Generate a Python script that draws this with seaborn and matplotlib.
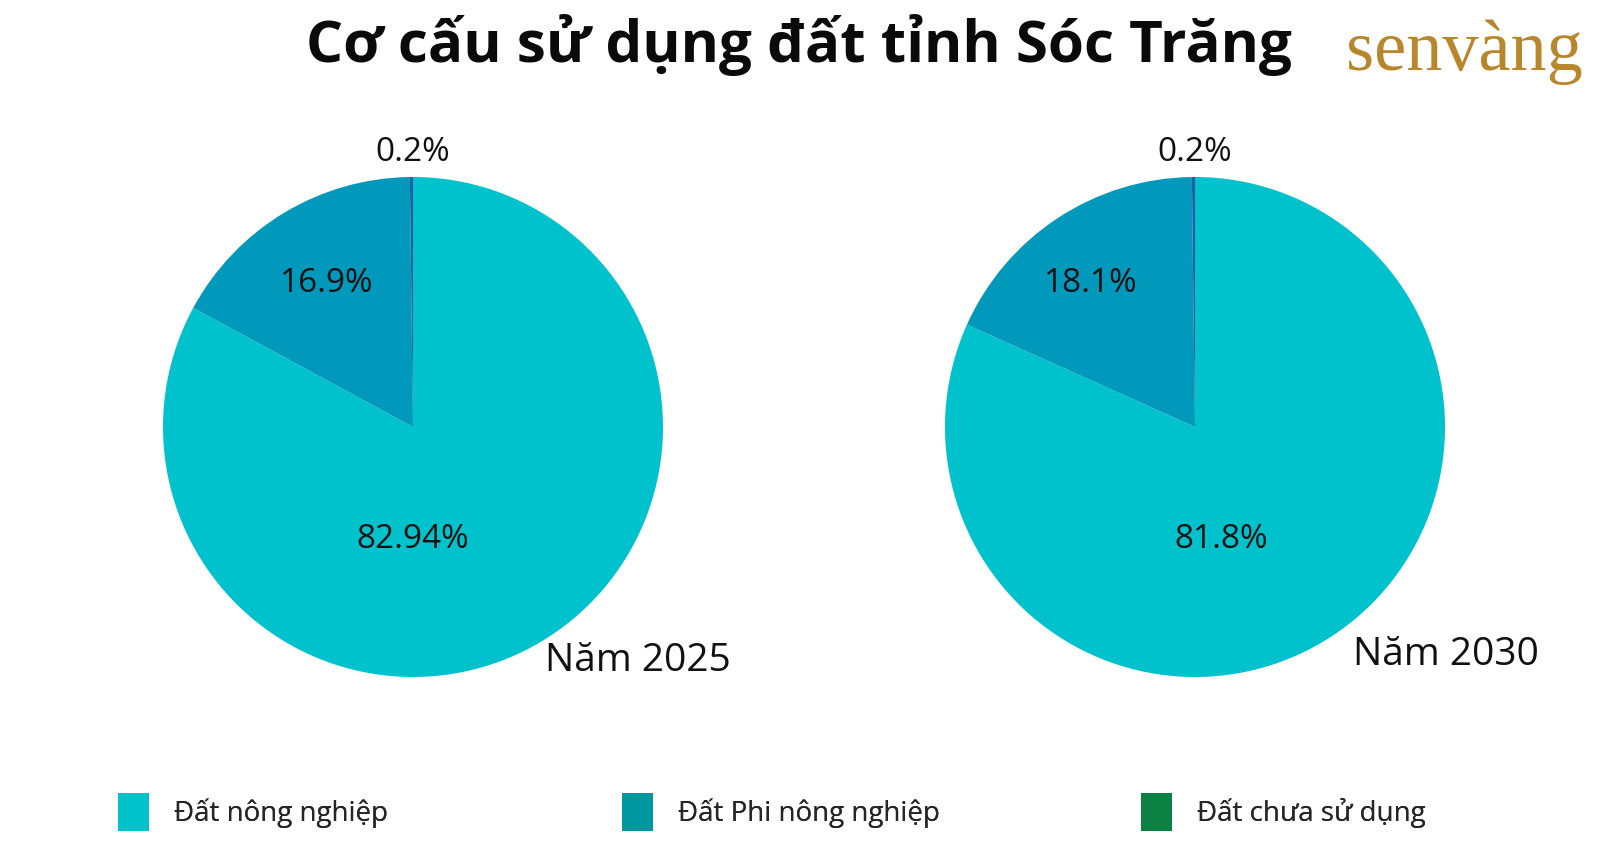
# =====================================================
# CO CAU SU DUNG DAT TINH SOC TRANG - PIE CHARTS
# =====================================================

import numpy as np
import matplotlib
matplotlib.use("Agg")
import matplotlib.pyplot as plt
from matplotlib.patches import Patch
import seaborn as sns

# =====================================================
# DATA
# =====================================================

categories = ["Đất nông nghiệp", "Đất Phi nông nghiệp", "Đất chưa sử dụng"]
years = ["Năm 2025", "Năm 2030"]
values_2025 = [82.94, 16.9, 0.2]
values_2030 = [81.8, 18.1, 0.2]
labels_2025 = ["82.94%", "16.9%", "0.2%"]
labels_2030 = ["81.8%", "18.1%", "0.2%"]

# =====================================================
# STYLE SETTINGS
# =====================================================

sns.set_style("white")
plt.rcParams["font.family"] = ["Open Sans", "DejaVu Sans"]

pie_colors = ["#00C2CC", "#0098BB", "#1F5FA8"]
legend_colors = ["#00C2CC", "#00979F", "#0B8043"]

W, H = 1600, 847
fig = plt.figure(figsize=(16, 8.47), dpi=100)

# =====================================================
# PIES
# =====================================================

radius_px = 250
centers = [(413, 427), (1195, 427)]

# label placement (angle in degrees, distance as fraction of radius)
label_spots = [
    [(-90, 0.45), (121, 0.67), (90, 1.10)],
    [(-77, 0.46), (126, 0.71), (90, 1.10)],
]
year_spots = [(638, 661), (1446, 655)]

for i, vals in enumerate([values_2025, values_2030]):
    cx, cy = centers[i]
    ax = fig.add_axes([
        (cx - radius_px) / W,
        (H - cy - radius_px) / H,
        2 * radius_px / W,
        2 * radius_px / H,
    ])
    ax.pie(
        vals,
        colors=pie_colors,
        startangle=90,
        counterclock=False,
        radius=1,
        wedgeprops={"linewidth": 0},
    )
    ax.set_xlim(-1, 1)
    ax.set_ylim(-1, 1)
    ax.axis("off")

    labels = labels_2025 if i == 0 else labels_2030
    for lab, (ang, dist) in zip(labels, label_spots[i]):
        a = np.deg2rad(ang)
        ax.text(
            dist * np.cos(a), dist * np.sin(a), lab,
            ha="center", va="center", fontsize=24, color="#111111",
            clip_on=False,
        )

    fig.text(
        year_spots[i][0] / W, 1 - year_spots[i][1] / H, years[i],
        ha="center", va="center", fontsize=28, color="#111111",
    )

# =====================================================
# TITLE AND LOGO
# =====================================================

fig.text(
    799 / W, 1 - 45 / H,
    "Cơ cấu sử dụng đất tỉnh Sóc Trăng",
    ha="center", va="center", fontsize=42, fontweight="bold",
    color="#0a0a0a",
)

fig.text(
    1464 / W, 1 - 52 / H, "senvàng",
    ha="center", va="center", fontsize=52,
    family=["Liberation Serif", "DejaVu Serif"], color="#B8862B",
)

# =====================================================
# LEGEND
# =====================================================

legend_x = [118, 622, 1141]

for x, c, l in zip(legend_x, legend_colors, categories):
    leg = fig.legend(
        handles=[Patch(facecolor=c, edgecolor="none", label=l)],
        loc="center left",
        bbox_to_anchor=(x / W, 1 - 812 / H),
        frameon=False,
        fontsize=20,
        handlelength=1.1,
        handleheight=1.75,
        handletextpad=0.9,
        borderpad=0,
        borderaxespad=0,
    )
    fig.add_artist(leg)

plt.savefig("out.png", dpi=100)
